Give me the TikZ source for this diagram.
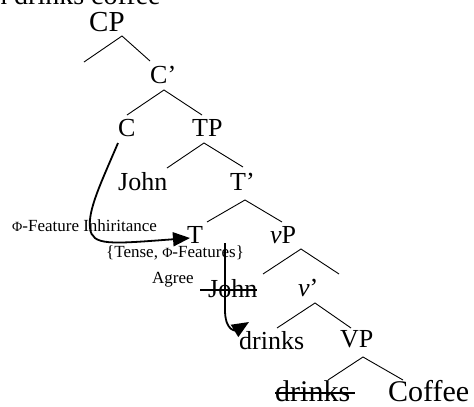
\documentclass[tikz,border=0pt]{standalone}
\usepackage{fontspec}
\setmainfont{Liberation Serif}
\usetikzlibrary{arrows.meta}
\newcommand{\smallphi}{{\fontsize{14}{14}\selectfont Φ}}
\begin{document}
\begin{tikzpicture}[x=1pt,y=-1pt,
  lbl/.style={anchor=base west,inner sep=0pt,font=\fontsize{26}{30}\selectfont},
  biglbl/.style={anchor=base west,inner sep=0pt,font=\fontsize{30}{34}\selectfont},
  note/.style={anchor=base west,inner sep=0pt,font=\fontsize{17}{20}\selectfont},
  branch/.style={line width=0.9pt},
  strike/.style={line width=1.4pt},
  movearrow/.style={line width=1.8pt,-{Triangle[length=17pt,width=14pt]}}]
\useasboundingbox (0,0) rectangle (474,407);
% top sentence (cut off)
\node[anchor=base west,inner sep=0pt,font=\fontsize{28}{32}\selectfont] (sent) at (-7,4) {n drinks coffee};
% tree labels
\node[lbl,font=\fontsize{29}{33}\selectfont] (CP) at (89,31) {CP};
\node[lbl] (Cbar) at (150,83) {C’};
\node[lbl] (C) at (118,136) {C};
\node[lbl] (TP) at (192,136) {TP};
\node[lbl] (John) at (118,190) {John};
\node[lbl] (Tbar) at (230,190) {T’};
\node[lbl] (T) at (187,243) {T};
\node[lbl] (vP) at (270,243) {\textit{v}P};
\node[lbl] (John2) at (208,297) {John};
\node[lbl] (vbar) at (298,296) {\textit{v}’};
\node[lbl] (drinks) at (239,349) {drinks};
\node[lbl] (VP) at (340,347) {VP};
\node[biglbl] (drinks2) at (275,401) {drinks};
\node[biglbl] (Coffee) at (388,401) {Coffee};
% notes
\node[note] (inh) at (12,231) {\smallphi-Feature Inhiritance};
\node[note] (feat) at (106,257) {\{Tense, \smallphi-Features\}};
\node[note] (agree) at (152,283) {Agree};
% branch coordinates
\coordinate (cpA) at (122,36); \coordinate (cpL) at (84,62); \coordinate (cpR) at (150,61);
\coordinate (cbA) at (164,90); \coordinate (cbL) at (127,115); \coordinate (cbR) at (202,115);
\coordinate (tpA) at (204,143); \coordinate (tpL) at (167,168); \coordinate (tpR) at (243,167);
\coordinate (tbA) at (245,200); \coordinate (tbL) at (207,222); \coordinate (tbR) at (282,222);
\coordinate (vpA) at (301,249); \coordinate (vpL) at (263,274); \coordinate (vpR) at (339,274);
\coordinate (vbA) at (315,303); \coordinate (vbL) at (277,328); \coordinate (vbR) at (351,328);
\coordinate (VPA) at (363,357); \coordinate (VPL) at (328,380); \coordinate (VPR) at (403,380);
\draw[branch] (cpL) -- (cpA) -- (cpR);
\draw[branch] (cbL) -- (cbA) -- (cbR);
\draw[branch] (tpL) -- (tpA) -- (tpR);
\draw[branch] (tbL) -- (tbA) -- (tbR);
\draw[branch] (vpL) -- (vpA) -- (vpR);
\draw[branch] (vbL) -- (vbA) -- (vbR);
\draw[branch] (VPL) -- (VPA) -- (VPR);
% strike-throughs
\coordinate (s1a) at (200,290); \coordinate (s1b) at (257,290);
\coordinate (s2a) at (275,393); \coordinate (s2b) at (355,393);
\draw[strike] (s1a) -- (s1b);
\draw[strike] (s2a) -- (s2b);
% movement arrows
\coordinate (a1s) at (118,143); \coordinate (a1m) at (90,228); \coordinate (a1e) at (190,238);
\draw[movearrow] (a1s) .. controls (100,185) and (88,210) .. (a1m)
  .. controls (92,246) and (110,244) .. (a1e);
\coordinate (a2s) at (225,243); \coordinate (a2m) at (225,312); \coordinate (a2e) at (249,322);
\draw[movearrow] (a2s) -- (a2m) .. controls (226,332) and (236,330) .. (a2e);
\end{tikzpicture}
\end{document}
